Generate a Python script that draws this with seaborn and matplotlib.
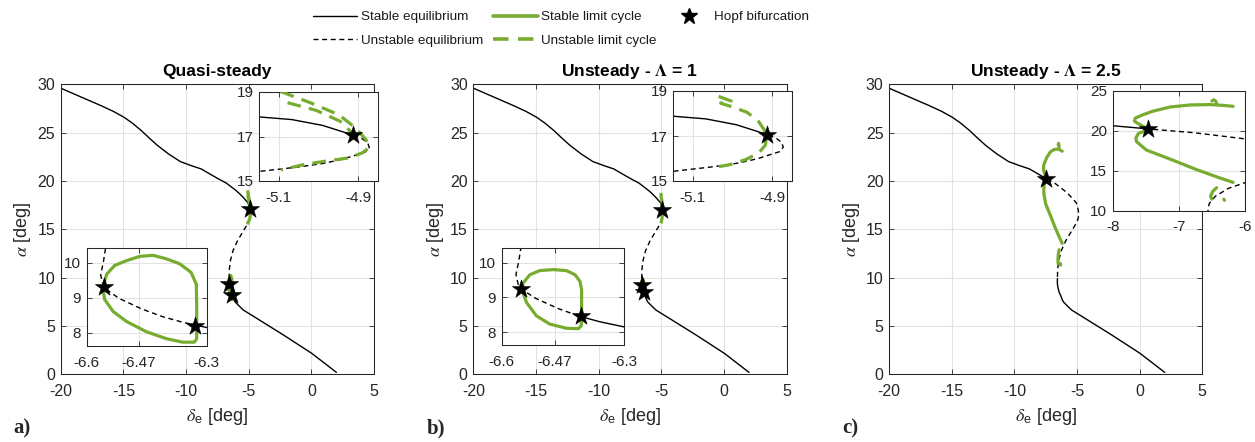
import numpy as np
import matplotlib
matplotlib.use("Agg")
import matplotlib.pyplot as plt
from matplotlib.lines import Line2D
import seaborn as sns

# ----------------------------------------------------------------- data
# equilibrium branch (delta_e [deg], alpha [deg]), ordered along the branch
eq_de = [-20.0, -18.4, -16.8, -15.8, -14.96, -14.3, -13.6, -12.9, -12.3,
         -11.4, -10.45, -9.5, -8.8, -8.0, -7.46, -6.78, -6.0, -5.7, -5.4,
         -5.15, -5.067, -4.99, -4.912, -4.89, -4.876, -4.872, -4.882, -4.9,
         -4.937, -4.985, -5.05, -5.14, -5.3, -5.9, -6.25, -6.45, -6.54,
         -6.553, -6.558, -6.565, -6.558, -6.52, -6.462, -6.41, -6.36, -6.30,
         -6.2, -6.09, -5.75, -5.43, -4.36, -2.23, 0.03, 2.0]
eq_alpha = [29.6, 28.7, 27.8, 27.2, 26.6, 26.0, 25.25, 24.4, 23.7,
            22.8, 22.0, 21.55, 21.25, 20.65, 20.25, 19.78, 19.0, 18.65, 18.25,
            17.88, 17.76, 17.5, 17.06, 16.9, 16.72, 16.5, 16.3, 16.2,
            15.99, 15.8, 15.63, 15.45, 15.1, 13.8, 12.8, 11.8, 10.9,
            10.42, 10.05, 9.66, 9.3, 8.99, 8.68, 8.46, 8.3, 8.15,
            7.8, 7.5, 7.05, 6.65, 5.79, 4.07, 2.17, 0.2]

# alpha range of the unstable part of the equilibrium branch (upper, lower)
unstable_a = (17.06, 8.20)
unstable_b = (17.04, 8.47)
unstable_c = (20.20, 9.90)

# Hopf bifurcations
hopf_a_de = [-4.912, -6.558, -6.328]
hopf_a_alpha = [17.06, 9.30, 8.20]
hopf_b_de = [-4.913, -6.553, -6.406]
hopf_b_alpha = [17.04, 9.24, 8.47]
hopf_c_de = [-7.46]
hopf_c_alpha = [20.2]

# panel a limit cycles
slc_a_de = [-6.560, -6.550, -6.530, -6.500, -6.467, -6.434, -6.401, -6.368,
            -6.339, -6.326, -6.325, -6.325, -6.325, -6.331, -6.360, -6.401,
            -6.451, -6.500, -6.534, -6.555, -6.560]
slc_a_alpha = [9.31, 9.68, 9.93, 10.07, 10.19, 10.22, 10.12, 9.98,
               9.73, 9.39, 8.81, 8.22, 7.83, 7.73, 7.73, 7.83,
               8.03, 8.32, 8.61, 8.95, 9.31]
ulc_a1_de = [-5.095, -5.018, -4.949, -4.906, -4.880, -4.872, -4.889, -4.923,
             -4.983, -5.036, -5.095]
ulc_a1_alpha = [19.02, 18.50, 17.98, 17.38, 16.85, 16.50, 16.27, 16.04,
                15.89, 15.74, 15.50]
ulc_a2_de = [-5.078, -5.005, -4.945, -4.912]
ulc_a2_alpha = [18.52, 18.17, 17.68, 17.10]

# panel b limit cycles
slc_b_de = [-6.551, -6.547, -6.531, -6.507, -6.474, -6.441, -6.420, -6.408,
            -6.404, -6.404, -6.404, -6.405, -6.412, -6.441, -6.482, -6.515,
            -6.539, -6.551]
slc_b_alpha = [9.24, 9.42, 9.65, 9.77, 9.80, 9.77, 9.65, 9.46,
               9.22, 8.80, 8.40, 8.18, 8.10, 8.11, 8.23, 8.47,
               8.85, 9.24]
ulc_b_de = [-5.035, -5.003, -5.030, -4.998, -4.963, -4.934, -4.917, -4.913,
            -4.917, -4.934, -4.967, -5.008, -5.040]
ulc_b_alpha = [18.76, 18.55, 18.46, 18.28, 18.05, 17.64, 17.19, 17.04,
               16.60, 16.24, 15.95, 15.72, 15.62]

# panel c limit cycles (all stable)
slc_c1_de = [-7.46, -7.58, -7.67, -7.66, -7.55, -7.40, -7.13, -6.83, -6.53,
             -6.33, -6.18]
slc_c1_alpha = [20.2, 20.75, 21.2, 21.6, 22.0, 22.45, 23.0, 23.25, 23.3,
                23.2, 23.08]
slc_c2_de = [-7.46, -7.61, -7.65, -7.64, -7.49, -7.133, -6.73, -6.38, -6.18]
slc_c2_alpha = [20.1, 19.7, 19.1, 18.65, 17.6, 16.47, 15.14, 14.1, 13.55]
slc_c3_de = [-6.50, -6.47, -6.44, -6.43]
slc_c3_alpha = [23.75, 23.9, 23.7, 23.45]
slc_c4_de = [-6.43, -6.49, -6.52, -6.50]
slc_c4_alpha = [12.88, 12.4, 11.8, 11.45]
slc_c5_de = [-6.32, -6.31]
slc_c5_alpha = [11.45, 11.3]

titles = ["Quasi-steady", r"Unsteady - $\mathbf{\Lambda}$ = 1",
          r"Unsteady - $\mathbf{\Lambda}$ = 2.5"]
panel_tags = ["a)", "b)", "c)"]
legend_labels = ["Stable equilibrium", "Unstable equilibrium",
                 "Stable limit cycle", "Unstable limit cycle", "Hopf bifurcation"]

# ----------------------------------------------------------------- style
sns.set_style("ticks")
plt.rcParams["font.family"] = ["Liberation Sans", "DejaVu Sans"]
plt.rcParams["mathtext.fontset"] = "custom"
plt.rcParams["mathtext.rm"] = "Liberation Sans"
plt.rcParams["mathtext.it"] = "STIXGeneral:italic"
plt.rcParams["mathtext.bf"] = "STIXGeneral:bold"
plt.rcParams["axes.linewidth"] = 0.75
plt.rcParams["axes.unicode_minus"] = False

GREEN = "#77AC30"
DARK = "#262626"
GRID = "#e3e3e3"
K_DASH = (0, (3.6, 2.6))
G_DASH = (0, (4.3, 2.6))

W, H = 1255, 442
fig = plt.figure(figsize=(W / 100, H / 100), dpi=100)


def rect(left, top, width, height):
    return [left / W, (H - top - height) / H, width / W, height / H]


def split_eq(a_hi, a_lo):
    de = np.asarray(eq_de)
    al = np.asarray(eq_alpha)
    d_hi = np.interp(a_hi, al[::-1], de[::-1])
    d_lo = np.interp(a_lo, al[::-1], de[::-1])
    m_up = al > a_hi
    m_mid = (al < a_hi) & (al > a_lo)
    m_low = al < a_lo
    up = (np.r_[de[m_up], d_hi], np.r_[al[m_up], a_hi])
    mid = (np.r_[d_hi, de[m_mid], d_lo], np.r_[a_hi, al[m_mid], a_lo])
    low = (np.r_[d_lo, de[m_low]], np.r_[a_lo, al[m_low]])
    return up, mid, low


def draw(ax, unstable, solid_lcs, dashed_lcs, hopf_de, hopf_al):
    up, mid, low = split_eq(*unstable)
    for seg, ls in ((up, "-"), (mid, K_DASH), (low, "-")):
        sns.lineplot(x=seg[0], y=seg[1], sort=False, estimator=None, ax=ax,
                     color="k", lw=1.0, linestyle=ls, legend=False, zorder=2)
    for de, al in solid_lcs:
        sns.lineplot(x=np.asarray(de), y=np.asarray(al), sort=False,
                     estimator=None, ax=ax, color=GREEN, lw=2.3,
                     solid_capstyle="round", legend=False, zorder=3)
    for de, al in dashed_lcs:
        sns.lineplot(x=np.asarray(de), y=np.asarray(al), sort=False,
                     estimator=None, ax=ax, color=GREEN, lw=2.3,
                     linestyle=G_DASH, legend=False, zorder=3)
    sns.scatterplot(x=np.asarray(hopf_de), y=np.asarray(hopf_al), marker="*",
                    s=190, color="k", edgecolor="k", linewidth=0.4, ax=ax,
                    legend=False, zorder=5)


def style_axes(ax, xlim, ylim, xticks, yticks, xticklabels=None, fs=11.5):
    ax.set_xlim(*xlim)
    ax.set_ylim(*ylim)
    ax.set_xticks(xticks)
    ax.set_yticks(yticks)
    if xticklabels is not None:
        ax.set_xticklabels(xticklabels)
    ax.grid(True, color=GRID, lw=0.8)
    ax.set_axisbelow(True)
    ax.tick_params(direction="in", length=3.5, width=0.6, colors=DARK,
                   labelsize=fs, top=True, right=True, labelcolor=DARK)
    ax.tick_params(axis="x", pad=7)
    ax.tick_params(axis="y", pad=4)
    for s in ax.spines.values():
        s.set_color(DARK)
        s.set_linewidth(0.75)
    ax.set_xlabel("")
    ax.set_ylabel("")
    ax.set_facecolor("white")


panels = [
    dict(unstable=unstable_a,
         solid=[(slc_a_de, slc_a_alpha)],
         dashed=[(ulc_a1_de, ulc_a1_alpha), (ulc_a2_de, ulc_a2_alpha)],
         hopf=(hopf_a_de, hopf_a_alpha)),
    dict(unstable=unstable_b,
         solid=[(slc_b_de, slc_b_alpha)],
         dashed=[(ulc_b_de, ulc_b_alpha)],
         hopf=(hopf_b_de, hopf_b_alpha)),
    dict(unstable=unstable_c,
         solid=[(slc_c1_de, slc_c1_alpha), (slc_c2_de, slc_c2_alpha),
                (slc_c3_de, slc_c3_alpha), (slc_c4_de, slc_c4_alpha),
                (slc_c5_de, slc_c5_alpha)],
         dashed=[],
         hopf=(hopf_c_de, hopf_c_alpha)),
]

main_left = [60.7, 473.3, 889.0]
for i, p in enumerate(panels):
    ax = fig.add_axes(rect(main_left[i], 84.3, 313.3, 290.0))
    draw(ax, p["unstable"], p["solid"], p["dashed"], *p["hopf"])
    style_axes(ax, (-20, 5), (0, 30), [-20, -15, -10, -5, 0, 5],
               [0, 5, 10, 15, 20, 25, 30])
    ax.set_title(titles[i], fontsize=12.5, fontweight="bold", color="k", pad=6)
    ax.set_xlabel(r"$\delta_{\mathrm{e}}$ [deg]", fontsize=13, color=DARK,
                  labelpad=5)
    ax.set_ylabel(r"$\alpha$ [deg]", fontsize=13, color=DARK, labelpad=3)
    fig.text((main_left[i] - 47) / W, (H - 433) / H, panel_tags[i],
             fontsize=15, fontweight="bold", family="Liberation Serif",
             va="baseline", ha="left")

# insets
for i, (l, t, w, h) in enumerate([(259, 92, 119, 89), (673, 91, 119, 90)]):
    p = panels[i]
    ax = fig.add_axes(rect(l, t, w, h))
    draw(ax, p["unstable"], p["solid"], p["dashed"], *p["hopf"])
    style_axes(ax, (-5.15, -4.85), (15, 19), [-5.1, -4.9], [15, 17, 19],
               ["-5.1", "-4.9"], fs=11)

for i, (l, t, w, h) in enumerate([(86.7, 248, 120, 98),
                                  (501.7, 247.7, 122.3, 97.6)]):
    p = panels[i]
    ax = fig.add_axes(rect(l, t, w, h))
    draw(ax, p["unstable"], p["solid"], p["dashed"], *p["hopf"])
    style_axes(ax, (-6.6, -6.3), (7.62, 10.43), [-6.6, -6.47, -6.3], [8, 9, 10],
               ["-6.6", "-6.47", "-6.3"], fs=11)

p = panels[2]
ax = fig.add_axes(rect(1112.7, 91, 132.3, 119.7))
draw(ax, p["unstable"], p["solid"], p["dashed"], *p["hopf"])
style_axes(ax, (-8, -6), (10, 25), [-8, -7, -6], [10, 15, 20, 25], fs=11)

# legend
handles = [
    Line2D([], [], color="k", lw=1.0),
    Line2D([], [], color="k", lw=1.0, linestyle=K_DASH),
    Line2D([], [], color=GREEN, lw=2.6),
    Line2D([], [], color=GREEN, lw=2.6, linestyle=G_DASH),
    Line2D([], [], color="k", marker="*", ls="none", ms=12),
]
leg = fig.legend(handles, legend_labels, ncol=3, loc="upper left",
                 bbox_to_anchor=(313 / W, 1 - 11 / H), frameon=False,
                 handlelength=3.3, handletextpad=0.25, columnspacing=0.75,
                 labelspacing=0.8, borderpad=0, borderaxespad=0,
                 prop={"size": 9.7})
for t in leg.get_texts():
    t.set_color("#1a1a1a")

fig.savefig("out.png", dpi=100)
